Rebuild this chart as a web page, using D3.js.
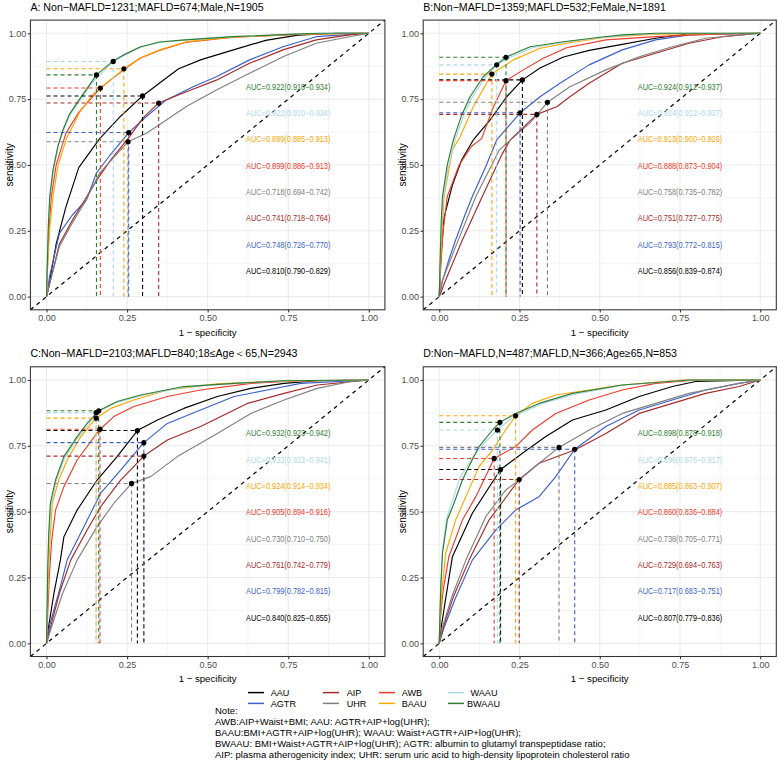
<!DOCTYPE html>
<html><head><meta charset="utf-8">
<script src="https://cdn.jsdelivr.net/npm/d3@7"></script>
<style>
body{margin:0;background:#fff}
svg{display:block}
text{font-family:"Liberation Sans",Arial,Helvetica,sans-serif}
</style>
</head><body>
<svg id="chart" width="778" height="772"></svg>
<script>
// ---------------- DATA ----------------
const seriesNames = ["AAU","AGTR","AIP","UHR","AWB","BAAU","WAAU","BWAAU"];
const seriesColors = ["#000000","#3A5FCD","#A52A2A","#808080","#EE3B2B","#FFA500","#ADD8E6","#2E7D32"];
const axisTicks = [0, 0.25, 0.5, 0.75, 1];
const minorTicks = [0.125, 0.375, 0.625, 0.875];
const panelTitles = [
  "A: Non\u2212MAFLD=1231;MAFLD=674;Male,N=1905",
  "B:Non\u2212MAFLD=1359;MAFLD=532;FeMale,N=1891",
  "C:Non\u2212MAFLD=2103;MAFLD=840;18\u2264Age\uFF1C65,N=2943",
  "D:Non\u2212MAFLD,N=487;MAFLD,N=366;Age\u226565,N=853"
];

// AUC labels (series order)
const aucA = ["0.810(0.790\u22120.829)","0.748(0.726\u22120.770)","0.741(0.718\u22120.764)","0.718(0.694\u22120.742)","0.899(0.886\u22120.913)","0.899(0.885\u22120.913)","0.922(0.910\u22120.934)","0.922(0.910\u22120.934)"];
const aucB = ["0.856(0.839\u22120.874)","0.793(0.772\u22120.815)","0.751(0.727\u22120.775)","0.758(0.735\u22120.782)","0.888(0.873\u22120.904)","0.913(0.900\u22120.926)","0.924(0.912\u22120.937)","0.924(0.912\u22120.937)"];
const aucC = ["0.840(0.825\u22120.855)","0.799(0.782\u22120.815)","0.761(0.742\u22120.779)","0.730(0.710\u22120.750)","0.905(0.894\u22120.916)","0.924(0.914\u22120.934)","0.932(0.922\u22120.941)","0.932(0.923\u22120.942)"];
const aucD = ["0.807(0.779\u22120.836)","0.717(0.683\u22120.751)","0.729(0.694\u22120.763)","0.738(0.705\u22120.771)","0.860(0.836\u22120.884)","0.885(0.863\u22120.907)","0.896(0.876\u22120.917)","0.898(0.878\u22120.918)"];
// y position of each AUC label (series order)
const aucLabelY = [0.1, 0.2, 0.3, 0.4, 0.5, 0.6, 0.7, 0.8];

// Optimal cut-off points [1-specificity, sensitivity] (series order)
const cutA = [[0.298,0.762],[0.255,0.623],[0.348,0.735],[0.253,0.588],[0.167,0.792],[0.240,0.865],[0.207,0.893],[0.155,0.842]];
const cutB = [[0.259,0.823],[0.252,0.698],[0.304,0.692],[0.337,0.738],[0.208,0.820],[0.164,0.845],[0.179,0.880],[0.208,0.909]];
const cutC = [[0.282,0.808],[0.302,0.762],[0.302,0.711],[0.264,0.607],[0.166,0.813],[0.154,0.855],[0.154,0.876],[0.162,0.883]];
const cutD = [[0.191,0.660],[0.422,0.737],[0.249,0.622],[0.373,0.744],[0.171,0.702],[0.238,0.864],[0.181,0.810],[0.189,0.839]];

// ROC curves, panel A
const A_AAU = [[0,0],[0.01,0.06],[0.03,0.2],[0.06,0.34],[0.1,0.49],[0.165,0.6],[0.23,0.685],[0.298,0.762],[0.35,0.81],[0.41,0.865],[0.48,0.9],[0.58,0.937],[0.68,0.973],[0.78,0.993],[0.9,1],[1,1]];
const A_AGTR = [[0,0],[0.01,0.08],[0.04,0.24],[0.08,0.31],[0.124,0.367],[0.155,0.47],[0.196,0.535],[0.255,0.623],[0.31,0.684],[0.372,0.747],[0.455,0.797],[0.527,0.835],[0.63,0.899],[0.734,0.949],[0.837,0.987],[1,1]];
const A_AIP = [[0,0],[0.01,0.05],[0.04,0.2],[0.08,0.29],[0.12,0.37],[0.16,0.45],[0.2,0.52],[0.253,0.6],[0.3,0.68],[0.348,0.735],[0.434,0.778],[0.527,0.822],[0.63,0.886],[0.734,0.937],[0.837,0.975],[0.94,0.994],[1,1]];
const A_UHR = [[0,0],[0.01,0.05],[0.04,0.19],[0.08,0.28],[0.12,0.36],[0.165,0.47],[0.253,0.588],[0.31,0.62],[0.372,0.671],[0.434,0.722],[0.527,0.785],[0.63,0.848],[0.734,0.911],[0.837,0.962],[0.94,0.987],[1,1]];
const A_AWB = [[0,0],[0.003,0.12],[0.008,0.26],[0.015,0.38],[0.03,0.5],[0.06,0.62],[0.1,0.7],[0.167,0.792],[0.24,0.862],[0.29,0.905],[0.35,0.935],[0.43,0.965],[0.58,0.985],[0.8,0.997],[1,1]];
const A_BAAU = [[0,0],[0.004,0.12],[0.01,0.26],[0.02,0.38],[0.036,0.5],[0.062,0.6],[0.103,0.7],[0.145,0.77],[0.176,0.8],[0.24,0.865],[0.289,0.905],[0.351,0.937],[0.434,0.968],[0.58,0.985],[0.785,0.997],[1,1]];
const A_WAAU = [[0,0],[0.003,0.14],[0.006,0.27],[0.011,0.38],[0.021,0.48],[0.036,0.57],[0.052,0.63],[0.073,0.69],[0.104,0.745],[0.14,0.81],[0.207,0.893],[0.24,0.916],[0.29,0.946],[0.35,0.965],[0.43,0.975],[0.58,0.987],[0.8,0.998],[1,1]];
const A_BWAAU = [[0,0],[0.003,0.15],[0.006,0.28],[0.01,0.38],[0.02,0.48],[0.035,0.57],[0.05,0.63],[0.07,0.69],[0.1,0.745],[0.155,0.842],[0.207,0.895],[0.24,0.918],[0.29,0.948],[0.35,0.967],[0.43,0.975],[0.58,0.987],[0.75,0.996],[0.85,1],[1,1]];

// panel B
const B_AAU = [[0,0],[0.005,0.15],[0.015,0.3],[0.04,0.42],[0.07,0.52],[0.106,0.595],[0.158,0.67],[0.21,0.759],[0.259,0.823],[0.314,0.868],[0.387,0.91],[0.467,0.935],[0.57,0.958],[0.674,0.981],[0.778,0.998],[1,1]];
const B_AGTR = [[0,0],[0.01,0.06],[0.03,0.14],[0.051,0.215],[0.08,0.31],[0.103,0.38],[0.145,0.494],[0.179,0.595],[0.252,0.698],[0.314,0.759],[0.376,0.81],[0.467,0.88],[0.57,0.937],[0.674,0.975],[0.778,0.994],[1,1]];
const B_AIP = [[0,0],[0.02,0.063],[0.072,0.215],[0.134,0.38],[0.197,0.544],[0.221,0.595],[0.304,0.692],[0.366,0.721],[0.407,0.759],[0.467,0.81],[0.57,0.886],[0.674,0.924],[0.778,0.962],[0.882,0.987],[1,1]];
const B_UHR = [[0,0],[0.01,0.063],[0.051,0.19],[0.114,0.38],[0.187,0.557],[0.283,0.66],[0.337,0.738],[0.407,0.797],[0.519,0.861],[0.623,0.911],[0.726,0.949],[0.83,0.981],[1,1]];
const B_AWB = [[0,0],[0.005,0.12],[0.012,0.25],[0.025,0.38],[0.062,0.5],[0.1,0.57],[0.132,0.6],[0.169,0.721],[0.208,0.82],[0.262,0.861],[0.324,0.905],[0.397,0.945],[0.519,0.975],[0.674,0.987],[0.83,0.996],[1,1]];
const B_BAAU = [[0,0],[0.004,0.13],[0.009,0.26],[0.015,0.38],[0.041,0.557],[0.065,0.607],[0.106,0.721],[0.164,0.845],[0.231,0.899],[0.314,0.943],[0.397,0.962],[0.519,0.985],[0.674,0.997],[1,1]];
const B_WAAU = [[0,0],[0.003,0.14],[0.007,0.27],[0.012,0.37],[0.028,0.49],[0.048,0.59],[0.075,0.685],[0.1,0.752],[0.14,0.828],[0.179,0.88],[0.215,0.905],[0.29,0.945],[0.39,0.966],[0.5,0.983],[0.6,0.994],[0.7,1],[1,1]];
const B_BWAAU = [[0,0],[0.003,0.15],[0.006,0.28],[0.01,0.38],[0.025,0.5],[0.044,0.595],[0.07,0.69],[0.096,0.759],[0.137,0.835],[0.179,0.882],[0.208,0.909],[0.283,0.949],[0.387,0.968],[0.5,0.985],[0.57,0.994],[0.674,1],[1,1]];

// panel C
const C_AAU = [[0,0],[0.006,0.06],[0.023,0.19],[0.043,0.316],[0.054,0.405],[0.095,0.506],[0.157,0.62],[0.219,0.709],[0.282,0.808],[0.344,0.848],[0.426,0.892],[0.53,0.937],[0.634,0.968],[0.737,0.987],[0.84,0.997],[1,1]];
const C_AGTR = [[0,0],[0.01,0.07],[0.043,0.215],[0.064,0.316],[0.116,0.443],[0.168,0.57],[0.23,0.658],[0.302,0.762],[0.375,0.835],[0.478,0.886],[0.582,0.937],[0.685,0.962],[0.789,0.987],[1,1]];
const C_AIP = [[0,0],[0.012,0.06],[0.04,0.19],[0.075,0.316],[0.126,0.43],[0.168,0.519],[0.23,0.62],[0.302,0.711],[0.375,0.772],[0.478,0.823],[0.623,0.911],[0.737,0.949],[0.84,0.981],[1,1]];
const C_UHR = [[0,0],[0.015,0.06],[0.05,0.19],[0.095,0.316],[0.157,0.443],[0.209,0.532],[0.264,0.607],[0.323,0.633],[0.406,0.709],[0.53,0.797],[0.634,0.873],[0.737,0.924],[0.84,0.968],[0.944,0.994],[1,1]];
const C_AWB = [[0,0],[0.004,0.12],[0.009,0.26],[0.016,0.39],[0.028,0.506],[0.054,0.595],[0.095,0.696],[0.166,0.813],[0.209,0.861],[0.271,0.899],[0.375,0.937],[0.478,0.962],[0.634,0.987],[0.789,0.997],[1,1]];
const C_BAAU = [[0,0],[0.003,0.14],[0.007,0.28],[0.011,0.4],[0.018,0.532],[0.038,0.62],[0.064,0.696],[0.106,0.785],[0.154,0.855],[0.199,0.892],[0.271,0.924],[0.375,0.962],[0.53,0.985],[0.685,0.994],[1,1]];
const C_WAAU = [[0,0],[0.002,0.14],[0.005,0.29],[0.008,0.41],[0.014,0.525],[0.03,0.615],[0.056,0.703],[0.097,0.78],[0.13,0.83],[0.154,0.876],[0.219,0.915],[0.3,0.942],[0.43,0.974],[0.6,0.988],[0.75,0.997],[1,1]];
const C_BWAAU = [[0,0],[0.002,0.15],[0.004,0.3],[0.007,0.42],[0.012,0.532],[0.028,0.62],[0.054,0.709],[0.095,0.785],[0.126,0.835],[0.162,0.883],[0.219,0.918],[0.292,0.943],[0.426,0.975],[0.582,0.987],[0.737,0.997],[1,1]];

// panel D
const D_AAU = [[0,0],[0.006,0.06],[0.02,0.17],[0.041,0.329],[0.103,0.494],[0.191,0.66],[0.259,0.722],[0.332,0.785],[0.415,0.848],[0.519,0.886],[0.623,0.937],[0.726,0.975],[0.799,0.994],[1,1]];
const D_AGTR = [[0,0],[0.015,0.06],[0.05,0.17],[0.103,0.316],[0.176,0.43],[0.238,0.506],[0.311,0.557],[0.363,0.633],[0.422,0.737],[0.519,0.823],[0.623,0.886],[0.726,0.924],[0.83,0.962],[0.934,0.987],[1,1]];
const D_AIP = [[0,0],[0.012,0.06],[0.045,0.18],[0.093,0.316],[0.155,0.468],[0.249,0.622],[0.311,0.684],[0.422,0.734],[0.519,0.797],[0.623,0.873],[0.726,0.911],[0.83,0.949],[0.934,0.975],[1,1]];
const D_UHR = [[0,0],[0.01,0.06],[0.04,0.18],[0.083,0.316],[0.145,0.481],[0.207,0.582],[0.249,0.62],[0.311,0.684],[0.373,0.744],[0.467,0.81],[0.57,0.873],[0.674,0.911],[0.778,0.949],[0.934,0.987],[1,1]];
const D_AWB = [[0,0],[0.004,0.1],[0.012,0.2],[0.03,0.329],[0.072,0.468],[0.114,0.557],[0.171,0.702],[0.238,0.747],[0.29,0.81],[0.363,0.873],[0.467,0.924],[0.57,0.962],[0.674,0.987],[0.8,1],[1,1]];
const D_BAAU = [[0,0],[0.003,0.1],[0.01,0.22],[0.02,0.342],[0.051,0.468],[0.083,0.557],[0.124,0.671],[0.166,0.734],[0.207,0.81],[0.238,0.864],[0.29,0.911],[0.363,0.943],[0.467,0.962],[0.57,0.981],[0.757,1],[1,1]];
const D_WAAU = [[0,0],[0.002,0.1],[0.005,0.22],[0.01,0.35],[0.022,0.47],[0.04,0.54],[0.065,0.63],[0.1,0.7],[0.14,0.76],[0.181,0.81],[0.22,0.85],[0.26,0.878],[0.32,0.91],[0.42,0.945],[0.57,0.98],[0.78,1],[1,1]];
const D_BWAAU = [[0,0],[0.002,0.1],[0.005,0.22],[0.01,0.342],[0.025,0.468],[0.046,0.532],[0.072,0.62],[0.1,0.69],[0.124,0.747],[0.166,0.81],[0.189,0.839],[0.238,0.873],[0.311,0.911],[0.415,0.949],[0.57,0.981],[0.778,1],[1,1]];

const noteLines = [
  "Note:",
  "AWB:AIP+Waist+BMI; AAU: AGTR+AIP+log(UHR);",
  "BAAU:BMI+AGTR+AIP+log(UHR); WAAU: Waist+AGTR+AIP+log(UHR);",
  "BWAAU: BMI+Waist+AGTR+AIP+log(UHR); AGTR: albumin to glutamyl transpeptidase ratio;",
  "AIP: plasma atherogenicity index; UHR: serum uric acid to high-density lipoprotein cholesterol ratio"
];

// ---------------- BUILD ----------------
const panels = [
  {title: panelTitles[0], auc: aucA, cut: cutA, curves: [A_AAU,A_AGTR,A_AIP,A_UHR,A_AWB,A_BAAU,A_WAAU,A_BWAAU]},
  {title: panelTitles[1], auc: aucB, cut: cutB, curves: [B_AAU,B_AGTR,B_AIP,B_UHR,B_AWB,B_BAAU,B_WAAU,B_BWAAU]},
  {title: panelTitles[2], auc: aucC, cut: cutC, curves: [C_AAU,C_AGTR,C_AIP,C_UHR,C_AWB,C_BAAU,C_WAAU,C_BWAAU]},
  {title: panelTitles[3], auc: aucD, cut: cutD, curves: [D_AAU,D_AGTR,D_AIP,D_UHR,D_AWB,D_BAAU,D_WAAU,D_BWAAU]}
];
const boxes = [
  {x0:30.4, x1:384.9, y0:20.1, y1:309.8},
  {x0:423.2, x1:776.3, y0:20.1, y1:309.8},
  {x0:30.4, x1:384.9, y0:366.8, y1:656.5},
  {x0:423.2, x1:776.3, y0:366.8, y1:656.5}
];

const svg = d3.select("#chart");
svg.append("rect").attr("width",778).attr("height",772).attr("fill","#fff");

panels.forEach((p, i) => {
  const b = boxes[i];
  const x = d3.scaleLinear().domain([-0.05,1.05]).range([b.x0,b.x1]);
  const y = d3.scaleLinear().domain([-0.05,1.05]).range([b.y1,b.y0]);
  const g = svg.append("g");

  // grid
  const grid = g.append("g");
  minorTicks.forEach(t => {
    grid.append("line").attr("x1",x(t)).attr("x2",x(t)).attr("y1",b.y0).attr("y2",b.y1).attr("stroke","#EBEBEB").attr("stroke-width",0.55);
    grid.append("line").attr("y1",y(t)).attr("y2",y(t)).attr("x1",b.x0).attr("x2",b.x1).attr("stroke","#EBEBEB").attr("stroke-width",0.55);
  });
  axisTicks.forEach(t => {
    grid.append("line").attr("x1",x(t)).attr("x2",x(t)).attr("y1",b.y0).attr("y2",b.y1).attr("stroke","#EBEBEB").attr("stroke-width",1.1);
    grid.append("line").attr("y1",y(t)).attr("y2",y(t)).attr("x1",b.x0).attr("x2",b.x1).attr("stroke","#EBEBEB").attr("stroke-width",1.1);
  });

  // diagonal reference
  g.append("line").attr("x1",x(-0.05)).attr("y1",y(-0.05)).attr("x2",x(1.05)).attr("y2",y(1.05))
    .attr("stroke","#000").attr("stroke-width",1.2).attr("stroke-dasharray","4,4");

  // curves
  const line = d3.line().x(d => x(d[0])).y(d => y(d[1]));
  p.curves.forEach((c, k) => {
    g.append("path").attr("d", line(c)).attr("fill","none").attr("stroke",seriesColors[k]).attr("stroke-width",1.15).attr("stroke-linejoin","round");
  });

  // cutoff dashed guides
  p.cut.forEach((c, k) => {
    g.append("line").attr("x1",x(0)).attr("x2",x(c[0])).attr("y1",y(c[1])).attr("y2",y(c[1]))
      .attr("stroke",seriesColors[k]).attr("stroke-width",1.1).attr("stroke-dasharray","4,3");
    g.append("line").attr("x1",x(c[0])).attr("x2",x(c[0])).attr("y1",y(c[1])).attr("y2",y(0))
      .attr("stroke",seriesColors[k]).attr("stroke-width",1.1).attr("stroke-dasharray","4,3");
  });
  p.cut.forEach((c, k) => {
    g.append("circle").attr("cx",x(c[0])).attr("cy",y(c[1])).attr("r",2.6).attr("fill","#000");
  });

  // AUC labels (horizontally condensed, as in the reference)
  p.auc.forEach((a, k) => {
    g.append("text").attr("transform",`translate(${x(0.75)},${y(aucLabelY[k]) + 3.6}) scale(0.82,1)`)
      .attr("text-anchor","middle").attr("font-size",9).attr("fill",seriesColors[k]).text("AUC=" + a);
  });

  // border
  g.append("rect").attr("x",b.x0).attr("y",b.y0).attr("width",b.x1-b.x0).attr("height",b.y1-b.y0)
    .attr("fill","none").attr("stroke","#333333").attr("stroke-width",1.07);

  // axes
  const ax = g.append("g").attr("transform",`translate(0,${b.y1})`)
    .call(d3.axisBottom(x).tickValues(axisTicks).tickFormat(d3.format(".2f")).tickSize(2.7).tickPadding(2));
  const ay = g.append("g").attr("transform",`translate(${b.x0},0)`)
    .call(d3.axisLeft(y).tickValues(axisTicks).tickFormat(d3.format(".2f")).tickSize(2.7).tickPadding(1.5));
  [ax, ay].forEach(a => {
    a.select(".domain").remove();
    a.selectAll(".tick line").attr("stroke","#333333").attr("stroke-width",1.07);
    a.selectAll(".tick text").attr("fill","#4D4D4D").attr("font-size",9).style("font-family",'"Liberation Sans",Arial,sans-serif');
  });

  // axis titles
  g.append("text").attr("x",(x(0)+x(1))/2).attr("y",b.y1+25.8).attr("text-anchor","middle")
    .attr("font-size",9.6).attr("fill","#000").text("1 \u2212 specificity");
  g.append("text").attr("transform",`translate(${b.x0-17.5},${(b.y0+b.y1)/2}) rotate(-90)`).attr("text-anchor","middle")
    .attr("font-size",10).attr("fill","#000").text("sensitivity");

  // title
  g.append("text").attr("x",b.x0).attr("y",b.y0-9.5).attr("font-size",10.6).attr("fill","#000").text(p.title);
});

// legend (filled by column, two rows)
const legendCols = [
  {kx:248, tx:270.7, items:[0,1]},
  {kx:323, tx:346.7, items:[2,3]},
  {kx:379, tx:401.7, items:[4,5]},
  {kx:448, tx:470.5, items:[6,7]}
];
const legendRowY = [692.6, 703.4];
const lg = svg.append("g");
legendCols.forEach(col => {
  col.items.forEach((s, r) => {
    lg.append("line").attr("x1",col.kx).attr("x2",col.kx+16).attr("y1",legendRowY[r]).attr("y2",legendRowY[r])
      .attr("stroke",seriesColors[s]).attr("stroke-width",1.5);
    const tx = (s === 7) ? col.tx - 3.5 : col.tx;
    lg.append("text").attr("x",tx).attr("y",legendRowY[r]+3.3).attr("font-size",9.1).attr("fill","#000").text(seriesNames[s]);
  });
});

// note
const ng = svg.append("g");
noteLines.forEach((t, i) => {
  ng.append("text").attr("x",215).attr("y",713.6 + i*11.1).attr("font-size",9.5).attr("fill","#000").text(t);
});
</script>
</body></html>
